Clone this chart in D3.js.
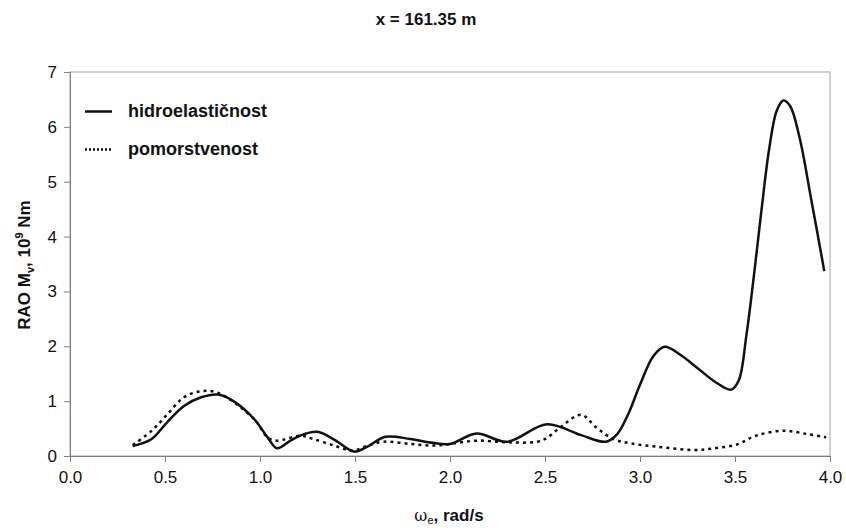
<!DOCTYPE html>
<html>
<head>
<meta charset="utf-8">
<script src="https://cdn.jsdelivr.net/npm/d3@7"></script>
<style>
  html, body { margin: 0; padding: 0; background: #fff; }
  svg { display: block; font-family: "Liberation Sans", Arial, sans-serif; }
</style>
</head>
<body>
<svg id="chart" width="846" height="528"></svg>
<script>
// ---- data ----
const titleText = "x = 161.35 m";
const seriesNames = ["hidroelastičnost", "pomorstvenost"];
const xTicks = [0.0, 0.5, 1.0, 1.5, 2.0, 2.5, 3.0, 3.5, 4.0];
const yTicks = [0, 1, 2, 3, 4, 5, 6, 7];

const hidroX = [0.33, 0.43, 0.51, 0.60, 0.69, 0.78, 0.86, 0.97, 1.04, 1.09, 1.16, 1.21, 1.30, 1.39, 1.495, 1.56, 1.66, 1.79, 1.91, 2.00, 2.14, 2.30, 2.51, 2.69, 2.82, 2.88, 2.94, 3.00, 3.07, 3.13, 3.21, 3.30, 3.40, 3.48, 3.52, 3.56, 3.60, 3.64, 3.68, 3.72, 3.755, 3.79, 3.84, 3.90, 3.97];
const hidroY = [0.18, 0.31, 0.61, 0.91, 1.07, 1.12, 1.00, 0.67, 0.34, 0.14, 0.28, 0.37, 0.44, 0.30, 0.08, 0.16, 0.35, 0.31, 0.24, 0.22, 0.41, 0.26, 0.58, 0.38, 0.26, 0.40, 0.78, 1.30, 1.82, 1.99, 1.85, 1.61, 1.34, 1.21, 1.38, 2.20, 3.30, 4.50, 5.60, 6.30, 6.48, 6.38, 5.80, 4.70, 3.37];

const pomorX = [0.33, 0.43, 0.51, 0.60, 0.69, 0.78, 0.97, 1.04, 1.09, 1.21, 1.28, 1.39, 1.49, 1.56, 1.65, 1.79, 1.91, 2.00, 2.14, 2.30, 2.46, 2.51, 2.58, 2.69, 2.77, 2.86, 2.95, 3.09, 3.28, 3.39, 3.51, 3.61, 3.755, 3.88, 3.98];
const pomorY = [0.20, 0.46, 0.75, 1.07, 1.18, 1.15, 0.67, 0.34, 0.28, 0.37, 0.31, 0.19, 0.10, 0.18, 0.26, 0.22, 0.19, 0.22, 0.28, 0.25, 0.26, 0.33, 0.52, 0.75, 0.52, 0.31, 0.23, 0.17, 0.11, 0.14, 0.21, 0.37, 0.46, 0.40, 0.34];

// ---- layout ----
const svg = d3.select("#chart");
const L = 70, R = 830, T = 72, B = 456;

const x = d3.scaleLinear().domain([0, 4]).range([L, R]);
const y = d3.scaleLinear().domain([0, 7]).range([B, T]);

// plot border
svg.append("rect")
  .attr("x", L).attr("y", T).attr("width", R - L).attr("height", B - T)
  .attr("fill", "none").attr("stroke", "#a0a0a0").attr("stroke-width", 1);

// axes
const xAxis = svg.append("g").attr("transform", `translate(0,${B})`)
  .call(d3.axisBottom(x).tickValues(xTicks).tickFormat(d3.format(".1f")).tickSizeOuter(0).tickSize(6).tickPadding(9));
const yAxis = svg.append("g").attr("transform", `translate(${L},0)`)
  .call(d3.axisLeft(y).tickValues(yTicks).tickFormat(d3.format("d")).tickSizeOuter(0).tickSize(6).tickPadding(7));
[xAxis, yAxis].forEach(g => {
  g.selectAll("path.domain").attr("stroke", "#808080");
  g.selectAll(".tick line").attr("stroke", "#808080");
  g.selectAll(".tick text").attr("font-size", 17).attr("fill", "#111")
    .attr("font-family", "Liberation Sans, Arial, sans-serif");
});

// lines
const line = d3.line().x(d => x(d[0])).y(d => y(d[1])).curve(d3.curveCatmullRom.alpha(0.5));
const hidro = hidroX.map((v, i) => [v, hidroY[i]]);
const pomor = pomorX.map((v, i) => [v, pomorY[i]]);

svg.append("path").datum(pomor).attr("d", line)
  .attr("fill", "none").attr("stroke", "#111").attr("stroke-width", 2.5)
  .attr("stroke-dasharray", "3,4");
svg.append("path").datum(hidro).attr("d", line)
  .attr("fill", "none").attr("stroke", "#111").attr("stroke-width", 2.5);

// legend
const leg = svg.append("g");
leg.append("line").attr("x1", 85).attr("x2", 112).attr("y1", 111.5).attr("y2", 111.5)
  .attr("stroke", "#111").attr("stroke-width", 2.5);
leg.append("line").attr("x1", 85).attr("x2", 112).attr("y1", 149.5).attr("y2", 149.5)
  .attr("stroke", "#111").attr("stroke-width", 2.5).attr("stroke-dasharray", "2,2");
leg.append("text").attr("x", 128).attr("y", 117).text(seriesNames[0])
  .attr("font-size", 18).attr("font-weight", "bold").attr("fill", "#111");
leg.append("text").attr("x", 128).attr("y", 155).text(seriesNames[1])
  .attr("font-size", 18).attr("font-weight", "bold").attr("fill", "#111");

// title
svg.append("text").attr("x", 426).attr("y", 25).attr("text-anchor", "middle")
  .attr("font-size", 17).attr("font-weight", "bold").attr("fill", "#111").text(titleText);

// y label
const yl = svg.append("text").attr("transform", "translate(30,265) rotate(-90)")
  .attr("text-anchor", "middle").attr("font-size", 17).attr("font-weight", "bold").attr("fill", "#111");
yl.append("tspan").text("RAO M");
yl.append("tspan").attr("font-size", 11).attr("dy", 4).text("v");
yl.append("tspan").attr("dy", -4).text(", 10");
yl.append("tspan").attr("font-size", 11).attr("dy", -7).text("9");
yl.append("tspan").attr("dy", 7).text(" Nm");

// x label
const xl = svg.append("text").attr("x", 449).attr("y", 521).attr("text-anchor", "middle")
  .attr("font-size", 17).attr("font-weight", "bold").attr("fill", "#111");
xl.append("tspan").attr("font-weight", "normal").attr("font-family", "DejaVu Serif, serif").attr("font-size", 16).text("ω");
xl.append("tspan").attr("font-size", 11).attr("font-weight", "normal").attr("dy", 3).text("e");
xl.append("tspan").attr("dy", -3).text(", rad/s");
</script>
</body>
</html>
